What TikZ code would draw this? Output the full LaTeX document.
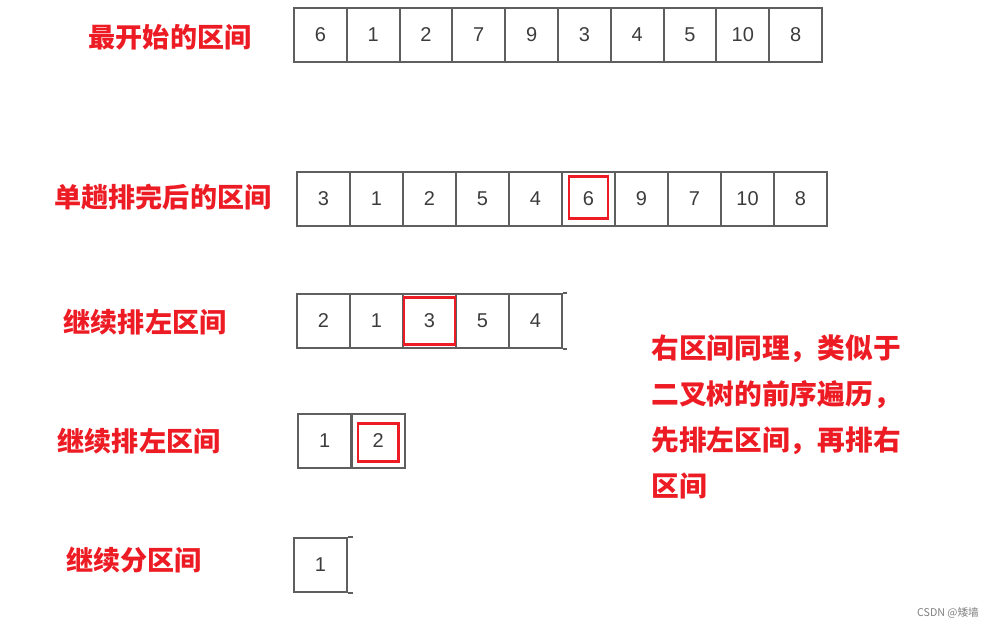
\documentclass[tikz,border=0pt]{standalone}
\usepackage{fontspec}
\setmainfont{Liberation Sans}
\newfontfamily\cjk{Noto Sans CJK SC}
\definecolor{hlred}{RGB}{237,28,36}
\definecolor{boxgray}{RGB}{95,95,95}
\definecolor{numgray}{RGB}{60,60,60}
\tikzset{
  cell/.style={draw=boxgray,line width=1.5pt,anchor=north west,inner sep=0pt,
    minimum height=40.5pt,text=numgray,font=\fontsize{15}{15}\selectfont},
  pick/.style={draw=hlred,line width=1.8pt,inner sep=0pt},
  lbl/.style={text=hlred,inner sep=0pt,font=\cjk\bfseries\fontsize{20.3}{20.3}\selectfont},
}
\begin{document}
\begin{tikzpicture}[x=0.75pt,y=-0.75pt]
      \useasboundingbox (0,0) rectangle (997,629);

      % 最开始
      \foreach \v [count=\i from 0] in {6,1,2,7,9,3,4,5,10,8}
        \node[cell,minimum width=39.6pt] (a\i) at ({293+52.8*\i},7) {\v};
      \node[lbl] (la) at (170,37) {最开始的区间};

      % 单趟排完后
      \foreach \v [count=\i from 0] in {3,1,2,5,4,6,9,7,10,8}
        \node[cell,minimum width=39.75pt] (b\i) at ({296+53*\i},171) {\v};
      \node[pick,minimum width=29pt,minimum height=31.5pt] (kb) at ([yshift=1pt]b5.center) {};
      \node[lbl] (lb) at (163,197) {单趟排完后的区间};

      % 继续排左区间
      \foreach \v [count=\i from 0] in {2,1,3,5,4}
        \node[cell,minimum width=39.75pt] (c\i) at ({296+53*\i},293) {\v};
      \draw[boxgray,line width=1.5pt] (c4.north east) -- ++(4,0);
      \draw[boxgray,line width=1.5pt] (c4.south east) -- ++(4,0);
      \node[pick,minimum width=38pt,minimum height=35pt] (kc) at (c2.center) {};
      \node[lbl] (lc) at (145,322) {继续排左区间};

      % 再排左区间
      \foreach \v [count=\i from 0] in {1,2}
        \node[cell,minimum width=40.1pt] (d\i) at ({297+53.5*\i},413) {\v};
      \node[pick,minimum width=30.5pt,minimum height=28.5pt] (kd) at ([yshift=-1pt]d1.center) {};
      \node[lbl] (ld) at (139,441) {继续排左区间};

      % 分区间
      \node[cell,minimum width=39.75pt] (e0) at (293,537) {1};
      \draw[boxgray,line width=1.5pt] (e0.north east) -- ++(5,0);
      \draw[boxgray,line width=1.5pt] (e0.south east) -- ++(5,0);
      \node[lbl] (le) at (134,560) {继续分区间};

      \node[lbl,anchor=north west,align=left,
        font=\cjk\bfseries\fontsize{20.8}{34.5}\selectfont] (note) at (651,335)
        {右区间同理，类似于\\二叉树的前序遍历，\\先排左区间，再排右\\区间};

      \node[text=gray,font=\cjk\fontsize{8}{8}\selectfont] (mark) at (948,613) {CSDN @矮墙};
    \end{tikzpicture}
\end{document}
